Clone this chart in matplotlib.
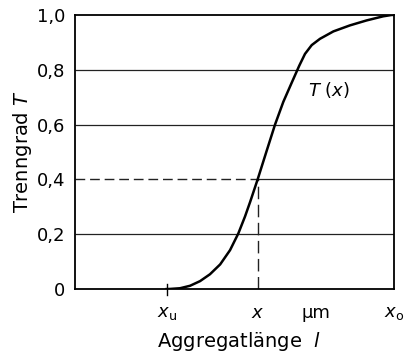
import matplotlib
matplotlib.use("Agg")
import matplotlib.pyplot as plt

# data (x in relative units of the axis, 0..1)
curve_x = [0.287, 0.298, 0.329, 0.3605, 0.392, 0.423, 0.455, 0.486, 0.512, 0.533,
           0.549, 0.5725, 0.601, 0.627, 0.653, 0.679, 0.703, 0.721, 0.742,
           0.768, 0.810, 0.862, 0.914, 0.966, 0.993, 1.0]
curve_T = [0.0, 0.0005, 0.003, 0.012, 0.029, 0.054, 0.09, 0.142, 0.203, 0.265,
           0.318, 0.4, 0.505, 0.6, 0.683, 0.752, 0.815, 0.858, 0.89,
           0.913, 0.94, 0.962, 0.980, 0.995, 1.0, 1.0]

y_ticks = [0, 0.2, 0.4, 0.6, 0.8, 1.0]
y_labels = ["0", "0,2", "0,4", "0,6", "0,8", "1,0"]

x_marks = [0.287, 0.5725, 0.755, 1.0]
x_labels = [r"$x_{\mathrm{u}}$", r"$x$", "µm", r"$x_{\mathrm{o}}$"]

x_point = 0.5725
T_point = 0.4

plt.rcParams['font.family'] = ['DejaVu Sans']
plt.rcParams['mathtext.fontset'] = 'dejavusans'

fig = plt.figure(figsize=(4.14, 3.56), dpi=100)
ax = fig.add_axes([0.1812, 0.188, 0.7705, 0.770])

ax.set_xlim(0, 1)
ax.set_ylim(0, 1)

# horizontal grid lines
for t in [0.2, 0.6, 0.8]:
    ax.plot([0, 1], [t, t], color='#222222', lw=0.9, solid_capstyle='butt')
ax.plot([0, x_point], [T_point, T_point], color='#222222', lw=1.0, dashes=(7, 3.5))
ax.plot([x_point, 1], [T_point, T_point], color='#222222', lw=0.9)
ax.plot([x_point, x_point], [0, T_point], color='#222222', lw=1.0, dashes=(9, 4))

ax.plot(curve_x, curve_T, color='black', lw=1.8, solid_joinstyle='round')

ax.text(0.73, 0.725, r"$T\ (x)$", fontsize=13, va='center', ha='left')

for s in ax.spines.values():
    s.set_linewidth(1.3)

ax.set_yticks(y_ticks)
ax.set_yticklabels(y_labels, fontsize=13)
ax.tick_params(axis='y', length=0, pad=7)

ax.set_xticks(x_marks)
ax.set_xticklabels(x_labels, fontsize=13)
ax.tick_params(axis='x', length=0, pad=11)
# small tick crossing the axis at x_u
ax.plot([x_marks[0], x_marks[0]], [-0.02, 0.018], color='black', lw=1.0, clip_on=False)

ax.set_ylabel(r"Trenngrad $\mathit{T}$", fontsize=14)
ax.yaxis.set_label_coords(-0.166, 0.5)
ax.yaxis.label.set_va('center')
ax.set_xlabel(r"Aggregatlänge  $\mathit{l}$", fontsize=14)
ax.xaxis.set_label_coords(0.514, -0.193)
ax.xaxis.label.set_va('center')

fig.savefig("out.png", dpi=100)
